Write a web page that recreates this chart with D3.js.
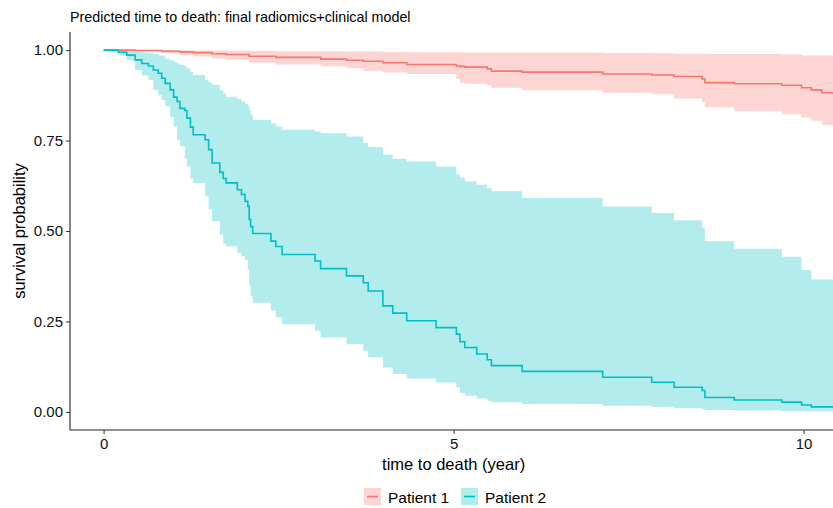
<!DOCTYPE html>
<html>
<head>
<meta charset="utf-8">
<script src="https://cdn.jsdelivr.net/npm/d3@7"></script>
<style>
  html, body { margin: 0; padding: 0; background: #fff; }
  svg { display: block; font-family: "Liberation Sans", Arial, sans-serif; }
</style>
</head>
<body>
<div id="chart"></div>
<script>
// Predicted survival curves (stepped) with confidence bands

const titleText = 'Predicted time to death: final radiomics+clinical model';
const xTicks = [0, 5, 10];
const yTicks = [0, 0.25, 0.5, 0.75, 1];
const groups = ['Patient 1', 'Patient 2'];

// Patient 1
const p1Time  = [0, 0.45, 0.83, 1.09, 1.28, 1.55, 1.75, 2.08, 2.46, 3.10, 3.47, 3.71, 3.99, 4.33, 5.04, 5.09, 5.16, 5.48, 5.54, 5.98, 7.13, 7.83, 8.15, 8.55, 8.59, 9.01, 9.69, 9.97, 10.11, 10.26, 10.5];
const p1Surv  = [1.000, 0.999, 0.997, 0.995, 0.993, 0.990, 0.988, 0.983, 0.980, 0.975, 0.972, 0.969, 0.965, 0.960, 0.956, 0.955, 0.953, 0.948, 0.942, 0.939, 0.934, 0.931, 0.927, 0.920, 0.910, 0.907, 0.903, 0.896, 0.890, 0.882, 0.882];
const p1Lower = [1.000, 0.996, 0.991, 0.986, 0.982, 0.977, 0.973, 0.965, 0.960, 0.955, 0.950, 0.943, 0.938, 0.934, 0.920, 0.910, 0.907, 0.903, 0.896, 0.889, 0.882, 0.878, 0.866, 0.856, 0.842, 0.831, 0.823, 0.814, 0.805, 0.793, 0.793];
const p1Upper = [1.000, 1.000, 1.000, 0.999, 0.999, 0.999, 0.998, 0.998, 0.997, 0.997, 0.996, 0.996, 0.995, 0.994, 0.994, 0.994, 0.993, 0.993, 0.993, 0.993, 0.992, 0.991, 0.990, 0.990, 0.989, 0.989, 0.988, 0.985, 0.985, 0.985, 0.985];

// Patient 2
const p2Time  = [0, 0.21, 0.33, 0.45, 0.545, 0.64, 0.71, 0.78, 0.83, 0.88, 0.95, 1.00, 1.05, 1.09, 1.16, 1.19, 1.24, 1.28, 1.45, 1.50, 1.55, 1.66, 1.71, 1.75, 1.91, 1.97, 2.02, 2.06, 2.08, 2.10, 2.13, 2.39, 2.46, 2.55, 3.02, 3.10, 3.47, 3.71, 3.78, 3.99, 4.13, 4.33, 4.75, 5.04, 5.09, 5.16, 5.33, 5.48, 5.54, 5.98, 7.13, 7.83, 8.15, 8.55, 8.59, 9.01, 9.69, 9.97, 10.11, 10.5];
const p2Surv  = [1.000, 0.994, 0.986, 0.973, 0.963, 0.956, 0.945, 0.936, 0.922, 0.908, 0.890, 0.870, 0.858, 0.839, 0.833, 0.812, 0.787, 0.766, 0.752, 0.725, 0.688, 0.662, 0.645, 0.633, 0.614, 0.601, 0.582, 0.568, 0.532, 0.512, 0.493, 0.472, 0.457, 0.435, 0.417, 0.396, 0.376, 0.357, 0.334, 0.293, 0.273, 0.252, 0.233, 0.215, 0.194, 0.178, 0.160, 0.144, 0.128, 0.112, 0.096, 0.082, 0.068, 0.059, 0.040, 0.033, 0.027, 0.019, 0.014, 0.014];
const p2Lower = [1.000, 0.985, 0.972, 0.945, 0.930, 0.917, 0.890, 0.875, 0.862, 0.845, 0.815, 0.789, 0.752, 0.735, 0.700, 0.678, 0.645, 0.633, 0.596, 0.560, 0.527, 0.490, 0.465, 0.458, 0.440, 0.430, 0.420, 0.394, 0.350, 0.320, 0.302, 0.280, 0.261, 0.242, 0.224, 0.206, 0.187, 0.169, 0.151, 0.123, 0.105, 0.092, 0.081, 0.068, 0.052, 0.045, 0.037, 0.031, 0.027, 0.022, 0.017, 0.014, 0.010, 0.008, 0.005, 0.004, 0.002, 0.002, 0.001, 0.001];
const p2Upper = [1.000, 1.000, 0.998, 0.995, 0.993, 0.991, 0.989, 0.986, 0.984, 0.977, 0.972, 0.968, 0.963, 0.959, 0.955, 0.950, 0.940, 0.931, 0.917, 0.911, 0.904, 0.890, 0.881, 0.871, 0.865, 0.858, 0.852, 0.845, 0.835, 0.822, 0.807, 0.797, 0.789, 0.780, 0.775, 0.770, 0.761, 0.743, 0.732, 0.711, 0.700, 0.692, 0.678, 0.656, 0.648, 0.637, 0.628, 0.618, 0.610, 0.591, 0.568, 0.550, 0.530, 0.509, 0.472, 0.451, 0.429, 0.392, 0.366, 0.366];

const colors = ['#F8766D', '#00BFC4'];

const width = 833, height = 508;
const panel = { left: 70, right: 833, top: 32, bottom: 430 };

const svg = d3.select('#chart').append('svg')
    .attr('width', width)
    .attr('height', height);

const x = d3.scaleLinear().domain([-0.48, 10.42]).range([panel.left, panel.right]);
const y = d3.scaleLinear().domain([-0.05, 1.05]).range([panel.bottom, panel.top]);

const series = [
    { name: groups[0], color: colors[0], rows: p1Time.map((t, i) => ({ t, s: p1Surv[i], lo: p1Lower[i], hi: p1Upper[i] })) },
    { name: groups[1], color: colors[1], rows: p2Time.map((t, i) => ({ t, s: p2Surv[i], lo: p2Lower[i], hi: p2Upper[i] })) }
];

svg.append('clipPath').attr('id', 'panel-clip')
    .append('rect')
    .attr('x', panel.left).attr('y', panel.top)
    .attr('width', panel.right - panel.left).attr('height', panel.bottom - panel.top);

const plot = svg.append('g').attr('clip-path', 'url(#panel-clip)');

const band = d3.area()
    .curve(d3.curveStepAfter)
    .x(d => x(d.t))
    .y0(d => y(d.lo))
    .y1(d => y(d.hi));

const line = d3.line()
    .curve(d3.curveStepAfter)
    .x(d => x(d.t))
    .y(d => y(d.s));

plot.selectAll('path.band')
    .data(series)
    .join('path')
    .attr('class', 'band')
    .attr('d', d => band(d.rows))
    .attr('fill', d => d.color)
    .attr('fill-opacity', 0.3);

plot.selectAll('path.curve')
    .data(series)
    .join('path')
    .attr('class', 'curve')
    .attr('d', d => line(d.rows))
    .attr('fill', 'none')
    .attr('stroke', d => d.color)
    .attr('stroke-width', 1.6);

// Axes
const xAxis = svg.append('g')
    .attr('transform', `translate(0,${panel.bottom})`)
    .call(d3.axisBottom(x).tickValues(xTicks).tickSize(4).tickPadding(4).tickSizeOuter(0));
const yAxis = svg.append('g')
    .attr('transform', `translate(${panel.left},0)`)
    .call(d3.axisLeft(y).tickValues(yTicks).tickFormat(d3.format('.2f')).tickSize(4).tickPadding(3).tickSizeOuter(0));

[xAxis, yAxis].forEach(a => {
    a.select('.domain').remove();
    a.selectAll('.tick line').attr('stroke', '#333').attr('stroke-width', 1);
    a.selectAll('.tick text')
        .attr('fill', '#111')
        .attr('font-size', '15px')
        .attr('font-family', '"Liberation Sans", Arial, sans-serif');
});

svg.append('line')
    .attr('x1', panel.left).attr('x2', panel.right)
    .attr('y1', panel.bottom).attr('y2', panel.bottom)
    .attr('stroke', '#222').attr('stroke-width', 1.1);
svg.append('line')
    .attr('x1', panel.left).attr('x2', panel.left)
    .attr('y1', panel.top).attr('y2', panel.bottom)
    .attr('stroke', '#222').attr('stroke-width', 1.1);

// Titles
svg.append('text')
    .attr('x', 70).attr('y', 22)
    .attr('font-size', '14.3px')
    .attr('fill', '#000')
    .text(titleText);

svg.append('text')
    .attr('x', x(5)).attr('y', 469.5)
    .attr('text-anchor', 'middle')
    .attr('font-size', '16.5px')
    .attr('fill', '#000')
    .text('time to death (year)');

svg.append('text')
    .attr('transform', `translate(25,${(panel.top + panel.bottom) / 2}) rotate(-90)`)
    .attr('text-anchor', 'middle')
    .attr('font-size', '16.5px')
    .attr('fill', '#000')
    .text('survival probability');

// Legend
const legendX = [364, 461];
const legend = svg.append('g')
    .selectAll('g')
    .data(series)
    .join('g')
    .attr('transform', (d, i) => `translate(${legendX[i]},488)`);

legend.append('rect')
    .attr('width', 17).attr('height', 17)
    .attr('fill', d => d.color)
    .attr('fill-opacity', 0.3);
legend.append('line')
    .attr('x1', 3).attr('x2', 14)
    .attr('y1', 8.5).attr('y2', 8.5)
    .attr('stroke', d => d.color)
    .attr('stroke-width', 1.6);
legend.append('text')
    .attr('x', 24).attr('y', 14.5)
    .attr('font-size', '15.5px')
    .attr('fill', '#000')
    .text(d => d.name);
</script>
</body>
</html>
